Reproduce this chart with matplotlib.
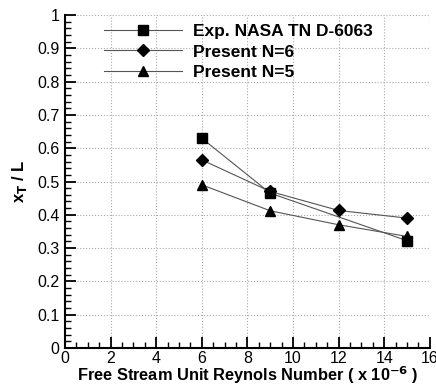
import matplotlib.pyplot as plt
from matplotlib.ticker import MultipleLocator

plt.rcParams['font.family'] = ['Liberation Sans', 'DejaVu Sans']

# data
re_exp = [6, 9, 15]
xt_exp = [0.63, 0.465, 0.322]

re_n6 = [6, 9, 12, 15]
xt_n6 = [0.565, 0.47, 0.413, 0.39]

re_n5 = [6, 9, 12, 15]
xt_n5 = [0.49, 0.412, 0.37, 0.335]

labels = ['Exp. NASA TN D-6063', 'Present N=6', 'Present N=5']


def main():
    fig = plt.figure(figsize=(4.36, 3.87), dpi=100)
    ax = fig.add_axes([0.149, 0.101, 0.837, 0.86])

    line_kw = dict(color='#555555', lw=0.8, markerfacecolor='black',
                   markeredgecolor='black')
    ax.plot(re_exp, xt_exp, marker='s', ms=6.5, label=labels[0], **line_kw)
    ax.plot(re_n6, xt_n6, marker='D', ms=6.5, label=labels[1], **line_kw)
    ax.plot(re_n5, xt_n5, marker='^', ms=7.5, label=labels[2], **line_kw)

    ax.set_xlim(0, 16)
    ax.set_ylim(0, 1)
    ax.xaxis.set_major_locator(MultipleLocator(2))
    ax.xaxis.set_minor_locator(MultipleLocator(0.5))
    ax.yaxis.set_major_locator(MultipleLocator(0.1))
    ax.yaxis.set_minor_locator(MultipleLocator(0.02))
    ax.set_yticks([0, 0.1, 0.2, 0.3, 0.4, 0.5, 0.6, 0.7, 0.8, 0.9, 1])
    ax.set_yticklabels(['0', '0.1', '0.2', '0.3', '0.4', '0.5', '0.6',
                        '0.7', '0.8', '0.9', '1'])

    ax.tick_params(which='major', direction='in', length=8, width=1.3,
                   labelsize=11.5, pad=4)
    ax.tick_params(axis='x', which='major', pad=2)
    ax.tick_params(which='minor', direction='in', length=4, width=1)

    ax.grid(True, which='major', color='#aaaaaa', linestyle=':', lw=0.8)
    ax.spines['top'].set_visible(False)
    ax.spines['right'].set_visible(False)
    ax.spines['left'].set_linewidth(1.5)
    ax.spines['bottom'].set_linewidth(1.5)

    ax.set_xlabel('Free Stream Unit Reynols Number ( x 10$^{\\mathbf{-6}}$ )',
                  fontsize=11.8, fontweight='bold', labelpad=-1)
    ax.set_ylabel('x$_\\mathbf{T}$ / L', fontsize=12, fontweight='bold',
                  labelpad=6)

    ax.legend(loc='upper left', bbox_to_anchor=(0.065, 1.02), frameon=False,
              handlelength=4.5, handletextpad=0.6,
              labelspacing=0.3, prop={'size': 12.5, 'weight': 'bold'})

    fig.savefig('out.png', dpi=100)


main()
